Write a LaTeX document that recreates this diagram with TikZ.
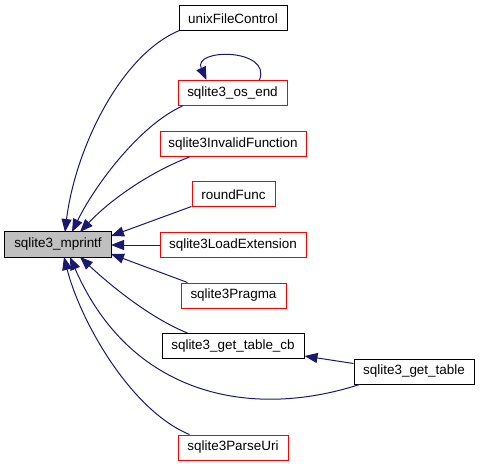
\documentclass[tikz,border=0pt]{standalone}
\usepackage{fontspec}
\setmainfont{Liberation Sans}
\usetikzlibrary{arrows.meta,calc}
\definecolor{edgeblue}{HTML}{191970}
\definecolor{boxgray}{HTML}{BFBFBF}
\begin{document}
\begin{tikzpicture}[x=1bp,y=-1bp,
  box/.style={draw=black,line width=1bp,fill=white,minimum height=25bp,inner sep=0pt,font=\fontsize{13.5}{16}\selectfont},
  redbox/.style={box,draw=red},
  edge/.style={draw=edgeblue,line width=1bp,-{Triangle[length=13bp,width=10bp]}}]
\useasboundingbox (0,0) rectangle (480,467);
\node[box,fill=boxgray,minimum width=106bp] (m) at (58,244.5) {sqlite3\_mprintf};
\node[box,minimum width=108bp] (ufc) at (233,18.5) {unixFileControl};
\node[redbox,minimum width=109bp] (ose) at (232.5,93) {sqlite3\_os\_end};
\node[redbox,minimum width=146bp] (inv) at (233,144) {sqlite3InvalidFunction};
\node[redbox,minimum width=83bp] (rf) at (233.5,194.5) {roundFunc};
\node[redbox,minimum width=146bp] (le) at (233,245) {sqlite3LoadExtension};
\node[redbox,minimum width=105bp] (pr) at (233.5,295.5) {sqlite3Pragma};
\node[box,minimum width=142bp] (gtc) at (233,346) {sqlite3\_get\_table\_cb};
\node[box,minimum width=120bp] (gt) at (414,371.5) {sqlite3\_get\_table};
\node[redbox,minimum width=110bp] (pu) at (233,447.5) {sqlite3ParseUri};
\coordinate (a1) at (65,232);
\coordinate (a2) at (72,232);
\coordinate (a3) at (80,232);
\coordinate (a4) at (111,236);
\coordinate (a5) at (111,245);
\coordinate (a6) at (111,254);
\coordinate (a7) at (80,257);
\coordinate (a8) at (70,257);
\coordinate (a9) at (64,257);
\coordinate (ls) at ($(ose.north)+(27,0)$);
\coordinate (le2) at ($(ose.north)+(-26,0)$);
\coordinate (gts) at ($(gt.west)+(0,-8)$);
\coordinate (gte) at (gtc.east |- 0,356);
\draw[edge] (ufc.south west) ++(1,-1) .. controls (120,55) and (75,150) .. (a1);
\draw[edge] (ose.south west) ++(5,0) .. controls (140,125) and (95,185) .. (a2);
\draw[edge] (inv.south west) ++(30,0) .. controls (150,172) and (110,200) .. (a3);
\draw[edge] (rf.south west) ++(0,-1) -- (a4);
\draw[edge] (le.west) -- (a5);
\draw[edge] (pr.north west) ++(7,0) -- (a6);
\draw[edge] (gtc.north west) ++(26,0) .. controls (150,318) and (110,285) .. (a7);
\draw[edge] (gt.south west) ++(6,0) .. controls (250,420) and (130,395) .. (a8);
\draw[edge] (pu.north west) ++(12,0) .. controls (130,410) and (80,320) .. (a9);
\draw[edge] (gts) -- (gte);
\draw[edge] (ls) .. controls (272,48) and (192,48) .. (le2);
\end{tikzpicture}
\end{document}
